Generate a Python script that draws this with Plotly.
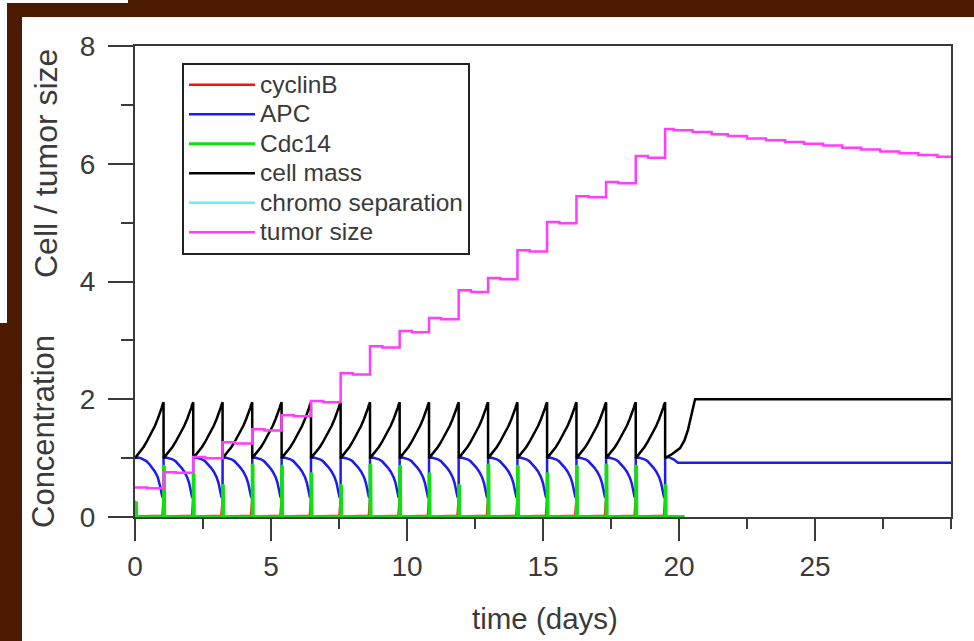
import plotly.graph_objects as go

# ---------------- data ----------------
# division times (days) where cell mass drops back to ~1
division_days = [1.05, 2.14, 3.22, 4.31, 5.39, 6.47, 7.56, 8.64, 9.73,
                 10.81, 11.90, 12.98, 14.06, 15.15, 16.23, 17.32, 18.41, 19.49]

# shape of one cell cycle, read along a cycle (phase = fraction of the cycle)
cycle_phase = [0.0, 0.1, 0.2, 0.3, 0.4, 0.5, 0.6, 0.7, 0.8, 0.86, 0.9, 0.93, 0.96, 1.0]
mass_profile = [1.0, 1.06, 1.12, 1.19, 1.27, 1.36, 1.45, 1.55, 1.67, 1.74, 1.80, 1.85, 1.90, 1.95]
apc_profile = [1.0, 1.01, 1.0, 0.98, 0.95, 0.90, 0.84, 0.77, 0.67, 0.58, 0.48, 0.40, 0.34, 0.32]
cyclinb_profile = [0.01, 0.01, 0.01, 0.01, 0.01, 0.01, 0.01, 0.01, 0.01, 0.01, 0.01, 0.01, 0.02, 0.30]

# Cdc14 spike heights at each division (first value = spike at t=0)
cdc14_spikes = [0.25, 0.88, 0.75, 0.55, 0.9, 0.88, 0.75, 0.55, 0.9, 0.88,
                0.75, 0.55, 0.9, 0.88, 0.75, 0.88, 0.9, 0.88, 0.55]
cdc14_end_day = 20.2

# after the last division
final_mass_days = [19.49, 19.75, 20.04, 20.2, 20.33, 20.48, 20.59, 30.0]
final_mass = [1.0, 1.07, 1.17, 1.30, 1.48, 1.77, 2.0, 2.0]
final_apc_days = [19.49, 19.6, 19.8, 19.96, 30.0]
final_apc = [1.0, 1.02, 0.98, 0.92, 0.92]

# tumor size: level after each division, and the slightly lower value later in the step
tumor_levels = [0.50, 0.76, 1.02, 1.27, 1.49, 1.73, 1.97, 2.44, 2.90, 3.16,
                3.38, 3.85, 4.06, 4.53, 5.01, 5.45, 5.69, 6.13, 6.59]
tumor_dips = [0.49, 0.75, 1.00, 1.25, 1.47, 1.71, 1.95, 2.42, 2.88, 3.14,
              3.36, 3.82, 4.04, 4.51, 4.99, 5.43, 5.67, 6.10]
tumor_decline_days = [19.8, 20.5, 21.2, 21.8, 22.5, 23.2, 23.9, 24.6, 25.3,
                      26.0, 26.7, 27.4, 28.1, 28.8, 29.5, 30.0]
tumor_decline = [6.57, 6.54, 6.50, 6.47, 6.43, 6.40, 6.37, 6.34, 6.31,
                 6.27, 6.24, 6.21, 6.18, 6.15, 6.12, 6.11]

x_ticks = [0, 5, 10, 15, 20, 25]
y_ticks = [0, 2, 4, 6, 8]

series_names = ["cyclinB", "APC", "Cdc14", "cell mass", "chromo separation", "tumor size"]

# ---------------- build series ----------------
starts = [0.0] + division_days[:-1]
t_cyc, mass, apc, cycb = [], [], [], []
for s, d in zip(starts, division_days):
    L = d - s
    for p, m, a, c in zip(cycle_phase, mass_profile, apc_profile, cyclinb_profile):
        t_cyc.append(s + p * L)
        mass.append(m)
        apc.append(a)
        cycb.append(c)
t_mass = t_cyc + final_mass_days
mass = mass + final_mass
t_apc = t_cyc + final_apc_days
apc = apc + final_apc
t_cycb = t_cyc + [division_days[-1], cdc14_end_day]
cycb = cycb + [0.01, 0.01]

spike_days = [0.02] + division_days
t_cdc, cdc = [0.0], [0.0]
for d, h in zip(spike_days, cdc14_spikes):
    t_cdc += [d, d, d + 0.03, d + 0.04]
    cdc += [0.0, h, h * 0.97, 0.0]
t_cdc.append(cdc14_end_day)
cdc.append(0.0)

t_chromo = [0.0, cdc14_end_day]
chromo = [0.0, 0.0]

t_tum, tum = [0.0, 0.45], [tumor_levels[0], tumor_dips[0]]
for i, d in enumerate(division_days):
    t_tum.append(d)
    tum.append(tumor_levels[i + 1])
    if i + 1 < len(tumor_dips):
        t_tum.append(d + 0.45)
        tum.append(tumor_dips[i + 1])
t_tum += tumor_decline_days
tum += tumor_decline

# ---------------- figure ----------------
W, H = 974, 641
L_, R_, T_, B_ = 135, 23, 46, 124
pw, ph = W - L_ - R_, H - T_ - B_


def px(x):
    return (x - L_) / pw


def py(y):
    return (H - B_ - y) / ph


def legend_name(s):
    return '<span style="font-size:24.5px">' + s + '</span>'


lw = 2.5
styles = {
    "cyclinB": (t_cycb, cycb, dict(color="#ff1010", width=lw)),
    "APC": (t_apc, apc, dict(color="#1c1cf0", width=lw)),
    "Cdc14": (t_cdc, cdc, dict(color="#10e010", width=3)),
    "cell mass": (t_mass, mass, dict(color="#000000", width=lw)),
    "chromo separation": (t_chromo, chromo, dict(color="#60f0ff", width=lw)),
    "tumor size": (t_tum, tum, dict(color="#ff3cff", width=lw, shape="hv")),
}
# drawing order (chromo separation lies underneath Cdc14 on the zero line);
# legend order is kept by legendrank
draw_order = ["cyclinB", "chromo separation", "APC", "Cdc14", "cell mass", "tumor size"]

fig = go.Figure()
for name in draw_order:
    xs, ys, ln = styles[name]
    fig.add_trace(go.Scatter(x=xs, y=ys, mode="lines", name=legend_name(name), line=ln,
                             legendrank=100 + series_names.index(name)))

font_family = "Liberation Sans, Arial, sans-serif"
axis_col = "#3a3a3a"
text_col = "#3a3a3a"

brown = "#4b1a00"
shapes = [
    dict(type="rect", xref="paper", yref="paper", layer="below",
         x0=px(22), x1=px(974), y0=py(641), y1=py(17),
         fillcolor="white", line=dict(width=0)),
    dict(type="rect", xref="paper", yref="paper", layer="below",
         x0=px(0), x1=px(7), y0=py(323), y1=py(0),
         fillcolor="white", line=dict(width=0)),
    dict(type="rect", xref="paper", yref="paper", layer="below",
         x0=px(0), x1=px(128), y0=py(3), y1=py(0),
         fillcolor="white", line=dict(width=0)),
]

annotations = [
    dict(text="Cell / tumor size", xref="paper", yref="paper",
         x=px(46), y=py(164), textangle=-90, showarrow=False,
         font=dict(size=32, color=text_col, family=font_family),
         xanchor="center", yanchor="middle"),
    dict(text="Concentration", xref="paper", yref="paper",
         x=px(43), y=py(432), textangle=-90, showarrow=False,
         font=dict(size=31, color=text_col, family=font_family),
         xanchor="center", yanchor="middle"),
    dict(text="time (days)", xref="paper", yref="paper",
         x=px(545), y=py(618), showarrow=False,
         font=dict(size=29.5, color=text_col, family=font_family),
         xanchor="center", yanchor="middle"),
]

fig.update_layout(
    width=W, height=H,
    margin=dict(l=L_, r=R_, t=T_, b=B_, pad=0),
    paper_bgcolor=brown,
    plot_bgcolor="white",
    shapes=shapes,
    annotations=annotations,
    font=dict(family=font_family, color=text_col),
    showlegend=True,
    legend=dict(x=px(182), y=py(63), xanchor="left", yanchor="top",
                bgcolor="white", bordercolor="#222222", borderwidth=2,
                font=dict(size=20.4, color=text_col, family=font_family),
                itemwidth=66, tracegroupgap=0, traceorder="normal"),
    xaxis=dict(range=[0, 30], tickvals=x_ticks, ticktext=[str(v) for v in x_ticks],
               showgrid=False, zeroline=False,
               showline=True, mirror=True, linecolor=axis_col, linewidth=2,
               ticks="outside", ticklen=22, tickwidth=2, tickcolor=axis_col,
               tickfont=dict(size=28, color=text_col, family=font_family),
               ticklabelstandoff=1,
               minor=dict(dtick=2.5, ticks="outside", ticklen=10, tickwidth=2,
                          tickcolor=axis_col, showgrid=False)),
    yaxis=dict(range=[0, 8], tickvals=y_ticks, ticktext=[str(v) for v in y_ticks],
               showgrid=False, zeroline=False,
               showline=True, mirror=True, linecolor=axis_col, linewidth=2,
               ticks="outside", ticklen=25, tickwidth=2, tickcolor=axis_col,
               tickfont=dict(size=28, color=text_col, family=font_family),
               ticklabelstandoff=7,
               minor=dict(dtick=1, ticks="outside", ticklen=12, tickwidth=2,
                          tickcolor=axis_col, showgrid=False)),
)

fig.write_html("out.html")
